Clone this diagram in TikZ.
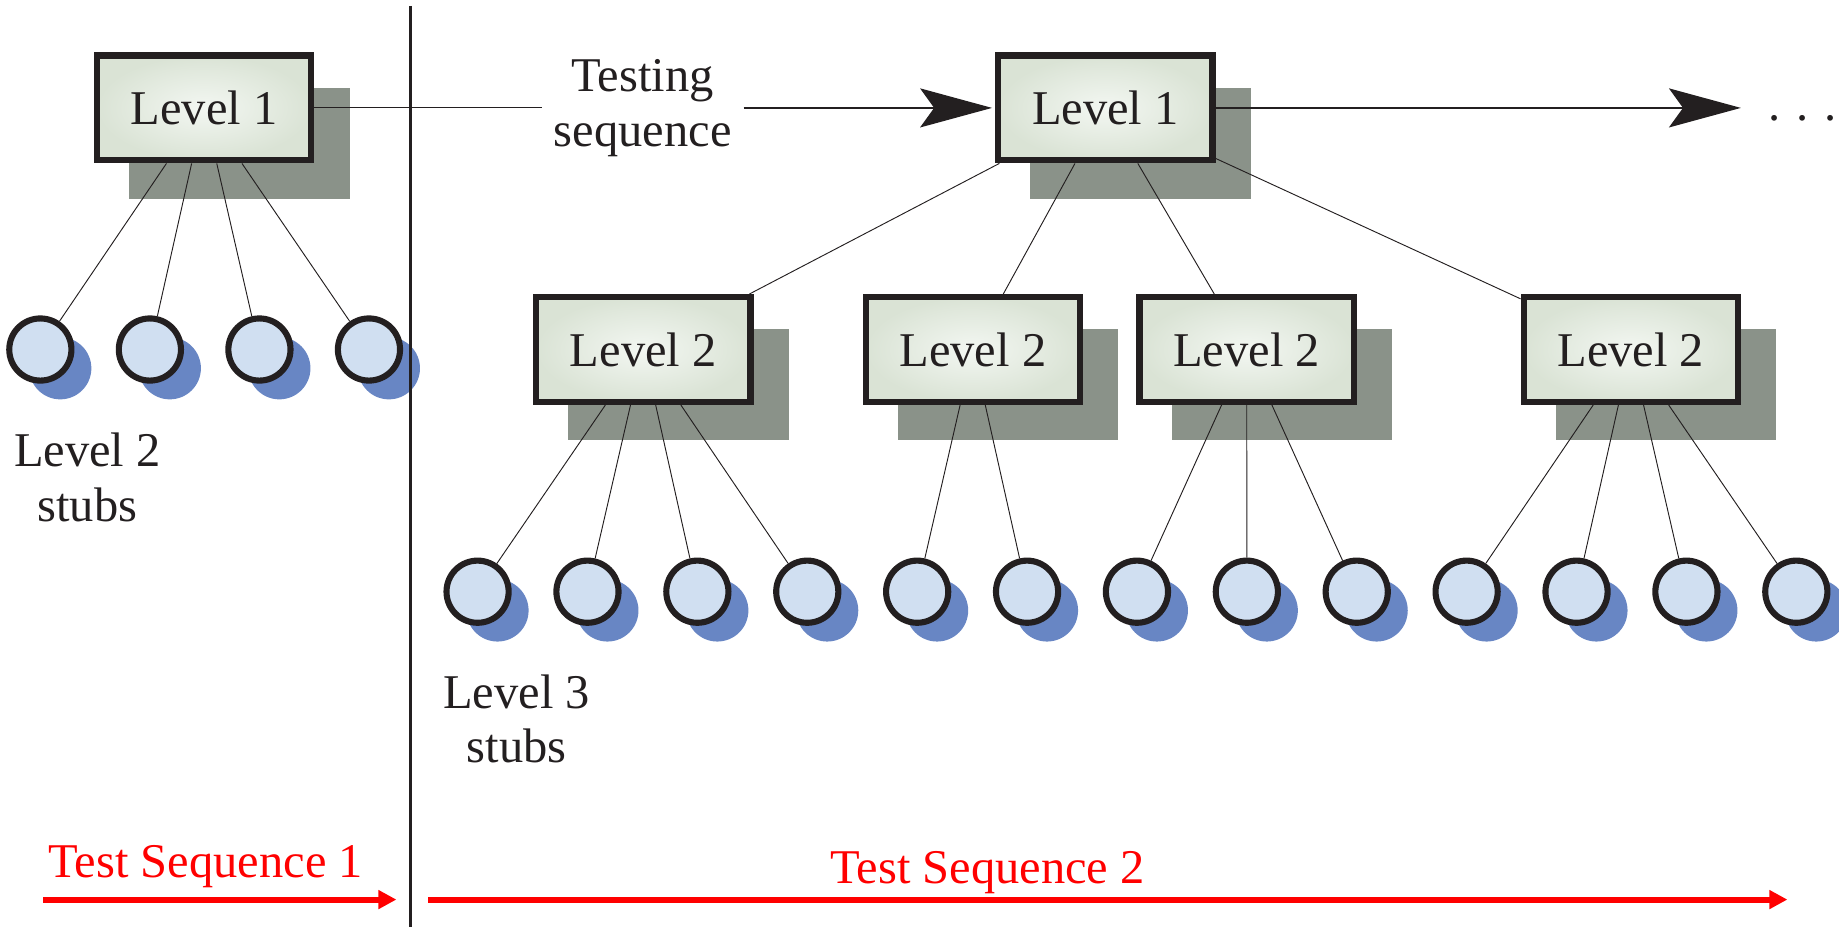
\documentclass[tikz,border=0pt]{standalone}
\usepackage{fontspec}
\setmainfont{Liberation Serif}
\usetikzlibrary{arrows.meta,shadows}

\definecolor{inkblack}{HTML}{231F20}
\definecolor{boxinner}{HTML}{F3F7F2}
\definecolor{boxouter}{HTML}{DAE3D5}
\definecolor{boxshade}{HTML}{8A9289}
\definecolor{stubfill}{HTML}{D0DFF1}
\definecolor{stubshade}{HTML}{6886C4}

\tikzset{every picture/.style={line width=0.6pt}}
\tikzset{
  levelbox/.style={draw=inkblack, line width=4pt, inner color=boxinner, outer color=boxouter,
    minimum width=137pt, minimum height=67pt, inner sep=0pt, text=inkblack,
    font=\fontsize{31}{35}\selectfont,
    general shadow={fill=boxshade, draw=boxshade, shadow xshift=22.5pt, shadow yshift=-22.5pt}},
  stub/.style={circle, draw=inkblack, line width=3.9pt, fill=stubfill, minimum size=39.75pt, inner sep=0pt,
    general shadow={fill=stubshade, shadow xshift=12.75pt, shadow yshift=-12pt}},
  caption/.style={text=inkblack, align=center, inner sep=0pt, font=\fontsize{31}{35}\selectfont},
  seqlabel/.style={text=red, inner sep=0pt, anchor=base, font=\fontsize{31}{35}\selectfont},
  seqarrow/.style={draw=red, line width=3.8pt, -{Triangle[length=11.5pt,width=11.5pt]}},
  link/.style={draw=inkblack, line width=0.6pt},
  flow/.style={draw=inkblack, line width=0.8pt, shorten >=2pt, -{Stealth[length=46pt,width=25pt,inset=9pt]}},
}

\begin{document}
\begin{tikzpicture}[x=0.75pt,y=0.75pt,yscale=-1,xscale=1]
\useasboundingbox (0,0) rectangle (1568,790);

%Level 1 boxes
\node[levelbox] (topA) at (174,92) {Level 1};
\node[levelbox] (topB) at (942.5,92) {Level 1};
%Level 2 boxes
\node[levelbox] (midA) at (548.5,298) {Level 2};
\node[levelbox] (midB) at (829.5,298) {Level 2};
\node[levelbox] (midC) at (1063,298) {Level 2};
\node[levelbox] (midD) at (1390.5,298) {Level 2};

%Level 2 stubs
\node[stub] (s2a) at (34.4,298) {};
\node[stub] (s2b) at (127.8,298) {};
\node[stub] (s2c) at (221.2,298) {};
\node[stub] (s2d) at (314.6,298) {};

%Level 3 stubs
\node[stub] (s3a) at (407.2,504.5) {};
\node[stub] (s3b) at (500.9,504.5) {};
\node[stub] (s3c) at (594.6,504.5) {};
\node[stub] (s3d) at (688.3,504.5) {};
\node[stub] (s3e) at (782,504.5) {};
\node[stub] (s3f) at (875.7,504.5) {};
\node[stub] (s3g) at (969.4,504.5) {};
\node[stub] (s3h) at (1063.1,504.5) {};
\node[stub] (s3i) at (1156.8,504.5) {};
\node[stub] (s3j) at (1250.5,504.5) {};
\node[stub] (s3k) at (1344.2,504.5) {};
\node[stub] (s3l) at (1437.9,504.5) {};
\node[stub] (s3m) at (1531.6,504.5) {};

% Text Node
\node[caption, inner xsep=7.5pt] (testing) at (548,92) {Testing\\sequence};
% Text Node
\node[caption] (stubs2) at (74.5,407) {Level 2\\stubs};
% Text Node
\node[caption] (stubs3) at (440.5,613) {Level 3\\stubs};
% Text Node
\node[caption, anchor=base] (dots) at (1537,103) {. . .};
% Text Node
\node[seqlabel] (seq1) at (175.5,748) {Test Sequence 1};
% Text Node
\node[seqlabel] (seq2) at (842,753) {Test Sequence 2};

\coordinate (more) at (1487,92);
\coordinate (divtop) at (350,5);
\coordinate (divbot) at (350,790);
\coordinate (seq1start) at (37,767);
\coordinate (seq1end) at (338,767);
\coordinate (seq2start) at (365,767);
\coordinate (seq2end) at (1524,767);

%Testing sequence
\draw[link] (topA) -- (testing);
\draw[flow] (testing) -- (topB);
\draw[flow] (topB) -- (more);

%Level 1 to Level 2
\draw[link] (topA) -- (s2a);
\draw[link] (topA) -- (s2b);
\draw[link] (topA) -- (s2c);
\draw[link] (topA) -- (s2d);
\draw[link] (topB) -- (midA);
\draw[link] (topB) -- (midB);
\draw[link] (topB) -- (midC);
\draw[link] (topB) -- (midD);

%Level 2 to Level 3
\draw[link] (midA) -- (s3a);
\draw[link] (midA) -- (s3b);
\draw[link] (midA) -- (s3c);
\draw[link] (midA) -- (s3d);
\draw[link] (midB) -- (s3e);
\draw[link] (midB) -- (s3f);
\draw[link] (midC) -- (s3g);
\draw[link] (midC) -- (s3h);
\draw[link] (midC) -- (s3i);
\draw[link] (midD) -- (s3j);
\draw[link] (midD) -- (s3k);
\draw[link] (midD) -- (s3l);
\draw[link] (midD) -- (s3m);

%Divider
\draw[inkblack, line width=1.3pt] (divtop) -- (divbot);

%Test sequences
\draw[seqarrow] (seq1start) -- (seq1end);
\draw[seqarrow] (seq2start) -- (seq2end);

\end{tikzpicture}
\end{document}
